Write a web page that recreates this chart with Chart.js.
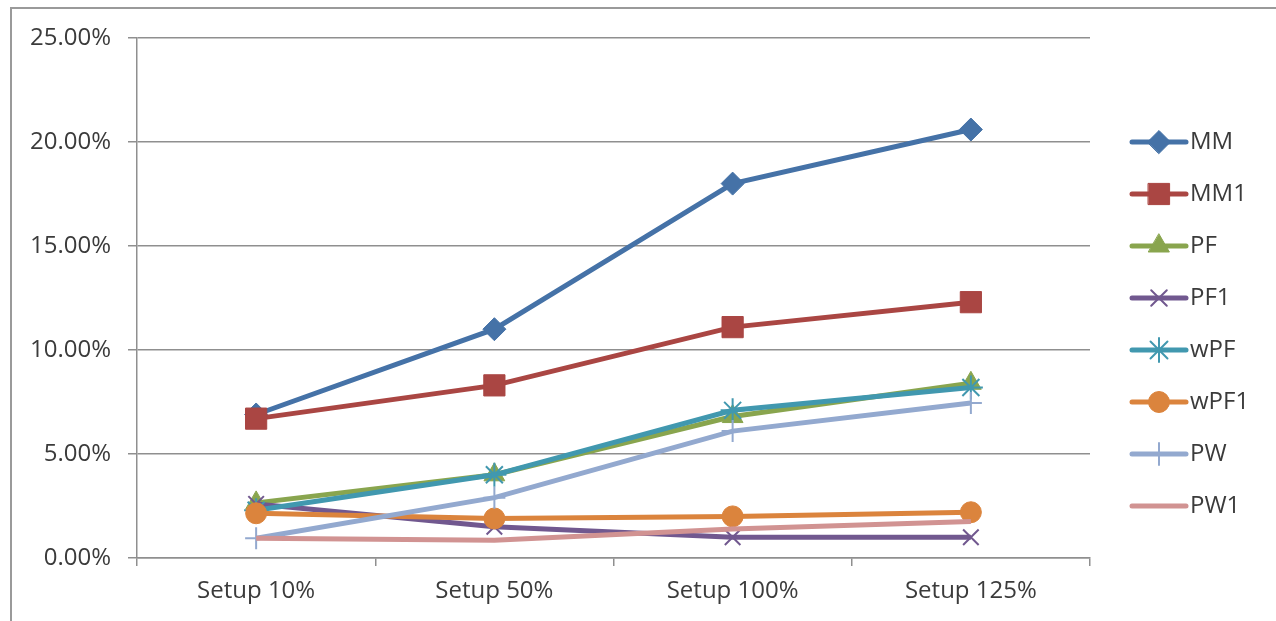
<!DOCTYPE html>
<html>
<head>
<meta charset="utf-8">
<script src="https://cdn.jsdelivr.net/npm/chart.js@4/dist/chart.umd.min.js"></script>
<style>
  html, body { margin: 0; padding: 0; background: #fff; }
  #wrap { width: 1276px; height: 621px; position: relative; }
</style>
</head>
<body>
<div id="wrap"><canvas id="c" width="1276" height="621"></canvas></div>
<script>
// Categories and series (values in percent)
const categories = ['Setup 10%', 'Setup 50%', 'Setup 100%', 'Setup 125%'];
const seriesNames = ['MM', 'MM1', 'PF', 'PF1', 'wPF', 'wPF1', 'PW', 'PW1'];
const MM   = [6.9, 11.0, 18.0, 20.6];
const MM1  = [6.7, 8.3, 11.1, 12.3];
const PF   = [2.65, 4.0, 6.8, 8.4];
const PF1  = [2.6, 1.5, 1.0, 1.0];
const wPF  = [2.3, 4.0, 7.1, 8.2];
const wPF1 = [2.15, 1.9, 2.0, 2.2];
const PW   = [0.95, 2.9, 6.1, 7.45];
const PW1  = [0.95, 0.85, 1.4, 1.75];
const yTicks = [0, 5, 10, 15, 20, 25];

const seriesValues = [MM, MM1, PF, PF1, wPF, wPF1, PW, PW1];
const colors = ['#4572A7', '#AA4643', '#89A54E', '#71588F', '#4198AF', '#DB843D', '#93A9CF', '#D19392'];
const markers = [
  { style: 'rectRot', r: 11.5, bw: 1 },
  { style: 'rect', r: 15, bw: 1 },
  { style: 'triangle', r: 12, bw: 1 },
  { style: 'crossRot', r: 11, bw: 2 },
  { style: 'star', r: 12, bw: 2 },
  { style: 'circle', r: 10.5, bw: 1 },
  { style: 'cross', r: 11, bw: 2 },
  { style: 'circle', r: 0, bw: 0 }
];

const FONT = '"Open Sans", "Liberation Sans", sans-serif';
const TEXT = '#3b3b3b';
const GRID = '#8f8f8f';

const datasets = seriesNames.map((name, i) => ({
  label: name,
  data: seriesValues[i],
  borderColor: colors[i],
  backgroundColor: colors[i],
  borderWidth: 5,
  tension: 0,
  pointStyle: markers[i].style,
  pointRadius: markers[i].r,
  pointHoverRadius: markers[i].r,
  pointBorderWidth: markers[i].bw,
  pointBorderColor: colors[i],
  pointBackgroundColor: colors[i],
  order: seriesNames.length - i
}));

// Outer frame around the chart
const framePlugin = {
  id: 'frame',
  afterDraw(chart) {
    const ctx = chart.ctx;
    ctx.save();
    ctx.strokeStyle = '#9a9a9a';
    ctx.lineWidth = 2;
    ctx.strokeRect(11, 8, 1400, 800);
    ctx.restore();
  }
};

// Legend: short line with the series marker, then the name
const legendPlugin = {
  id: 'sideLegend',
  afterDraw(chart) {
    const ctx = chart.ctx;
    ctx.save();
    seriesNames.forEach((name, i) => {
      const y = 142 + 52 * i;
      ctx.strokeStyle = colors[i];
      ctx.lineWidth = 5;
      ctx.lineCap = 'round';
      ctx.beginPath();
      ctx.moveTo(1132, y);
      ctx.lineTo(1186, y);
      ctx.stroke();
      if (markers[i].r > 0) {
        ctx.fillStyle = colors[i];
        ctx.strokeStyle = colors[i];
        ctx.lineWidth = markers[i].bw;
        Chart.helpers.drawPoint(ctx, {
          pointStyle: markers[i].style,
          radius: markers[i].r,
          rotation: 0,
          borderWidth: markers[i].bw
        }, 1159, y);
      }
      ctx.fillStyle = TEXT;
      ctx.font = '24px ' + FONT;
      ctx.textBaseline = 'middle';
      ctx.textAlign = 'left';
      ctx.fillText(name, 1190, y);
    });
    ctx.restore();
  }
};

new Chart(document.getElementById('c'), {
  type: 'line',
  data: { labels: categories, datasets },
  options: {
    responsive: false,
    animation: false,
    events: [],
    layout: { padding: { left: 0, top: 38, right: 186, bottom: 0 } },
    plugins: {
      legend: { display: false },
      tooltip: { enabled: false }
    },
    scales: {
      x: {
        type: 'category',
        offset: true,
        grid: {
          offset: true,
          drawOnChartArea: false,
          drawTicks: true,
          tickLength: 8,
          color: GRID,
          lineWidth: 1.5
        },
        border: { display: true, color: GRID, width: 1.5 },
        ticks: {
          color: TEXT,
          font: { family: FONT, size: 24 },
          padding: 11,
          maxRotation: 0
        },
        afterFit(scale) { scale.height = 63; }
      },
      y: {
        min: 0,
        max: 25,
        afterBuildTicks(scale) { scale.ticks = yTicks.map(v => ({ value: v })); },
        grid: {
          color: GRID,
          lineWidth: 1.5,
          drawTicks: true,
          tickLength: 9
        },
        border: { display: true, color: GRID, width: 1.5 },
        ticks: {
          color: TEXT,
          font: { family: FONT, size: 24 },
          padding: 17,
          callback: v => v.toFixed(2) + '%'
        },
        afterFit(scale) { scale.width = 137; }
      }
    }
  },
  plugins: [framePlugin, legendPlugin]
});
</script>
</body>
</html>
